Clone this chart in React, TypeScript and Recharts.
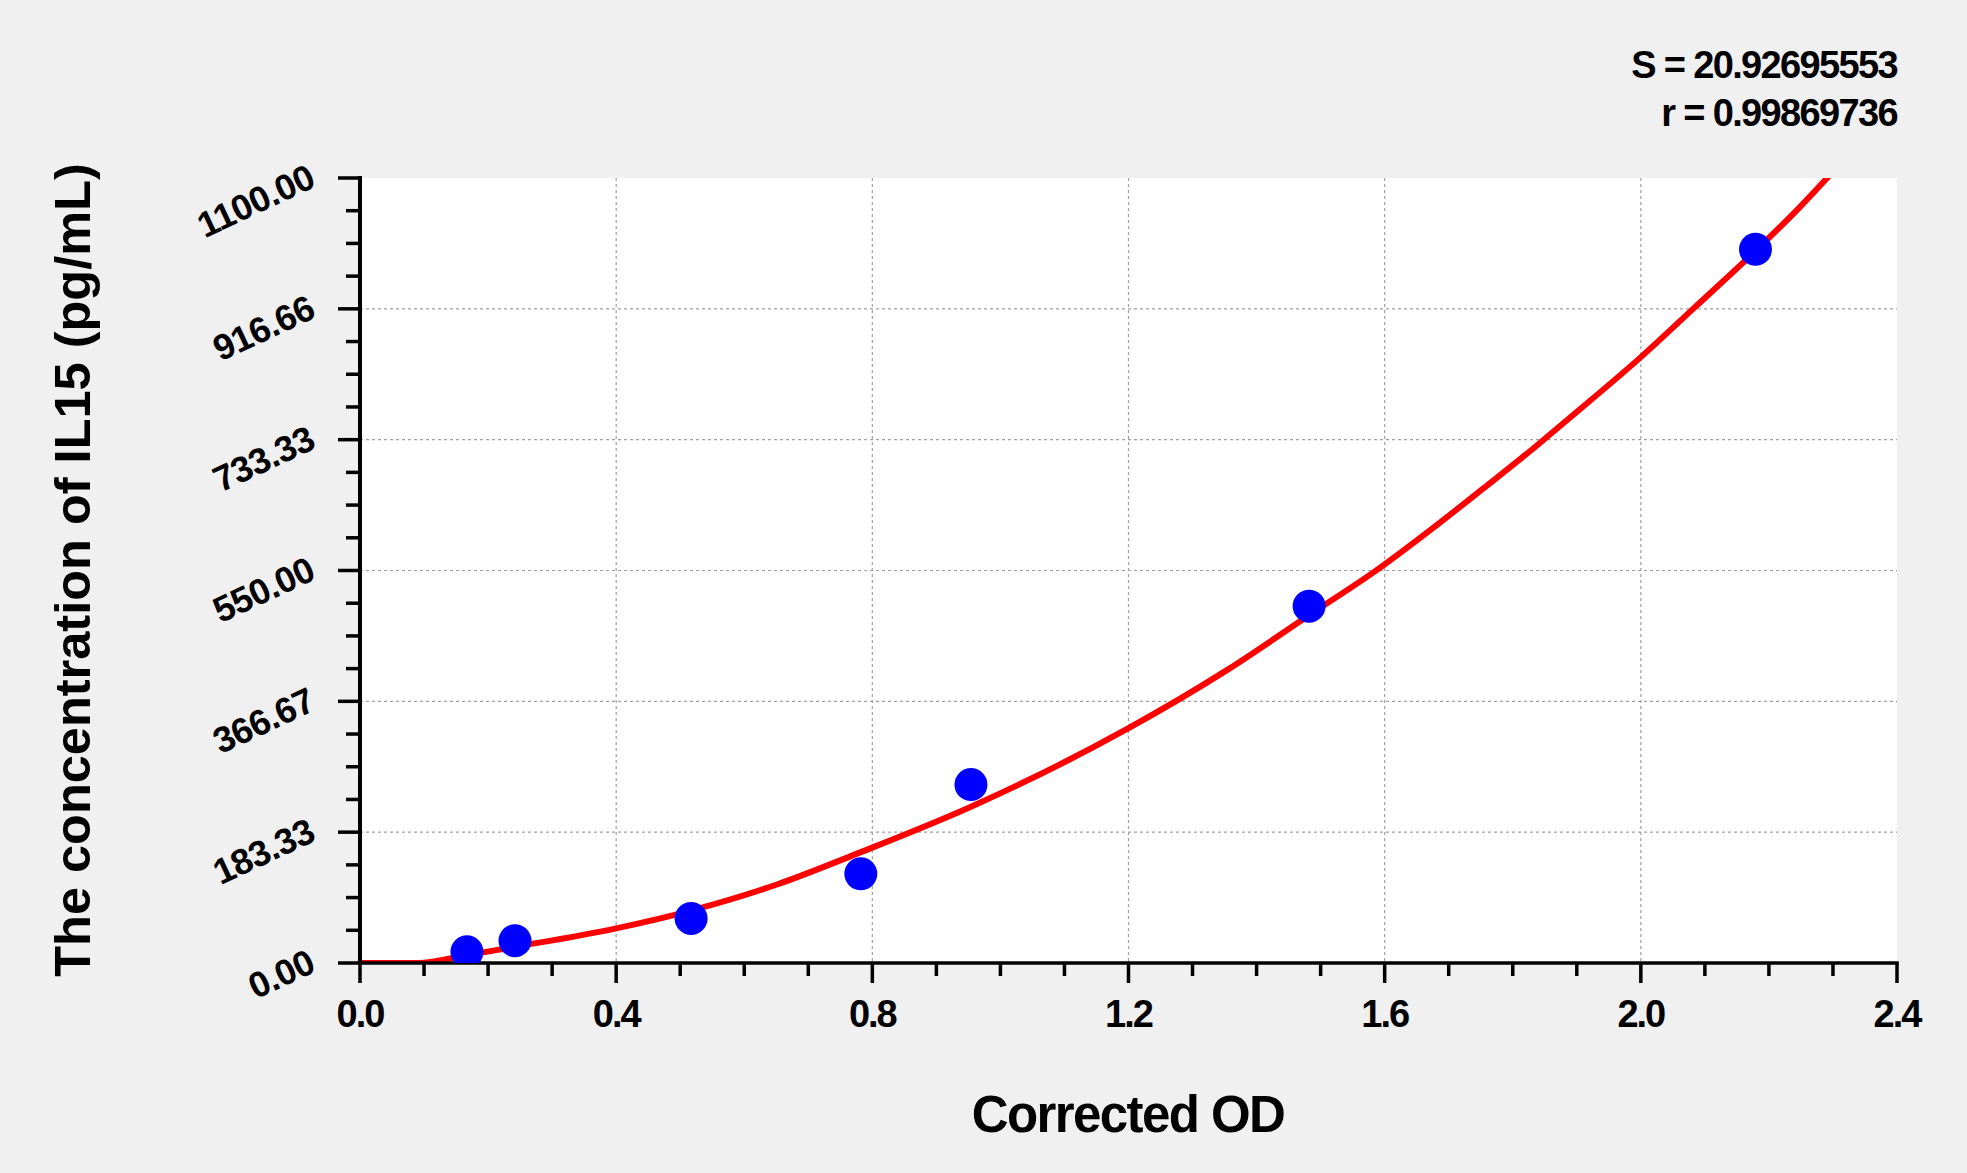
import React from 'react';
import { ComposedChart, Line, Scatter, XAxis, YAxis, CartesianGrid } from 'recharts';

// Standards (corrected OD vs concentration)
const standardOD = [0.167, 0.242, 0.517, 0.782, 0.954, 1.482, 2.179];
const standardConc = [15.6, 31.25, 62.5, 125, 250, 500, 1000];

// Fitted curve
const curveOD = [0, 0.091, 0.167, 0.241, 0.4, 0.517, 0.651, 0.781, 0.954, 1.2, 1.353, 1.483, 1.593, 1.666, 1.754, 1.832, 1.885, 2.0, 2.082, 2.178, 2.249, 2.295];
const curveConc = [0, 0, 11, 22.5, 48.6, 73.5, 110, 155, 219, 329, 410, 488, 554, 603, 665, 721, 761, 849, 917, 997, 1060, 1104];

// Axis ticks
const xTicks = [0, 0.1, 0.2, 0.3, 0.4, 0.5, 0.6, 0.7, 0.8, 0.9, 1.0, 1.1, 1.2, 1.3, 1.4, 1.5, 1.6, 1.7, 1.8, 1.9, 2.0, 2.1, 2.2, 2.3, 2.4];
const xMajorLabels = ['0.0', '0.4', '0.8', '1.2', '1.6', '2.0', '2.4'];
const yTicks = [0, 45.83, 91.67, 137.5, 183.33, 229.17, 275, 320.83, 366.67, 412.5, 458.33, 504.17, 550, 595.83, 641.67, 687.5, 733.33, 779.17, 825, 870.83, 916.66, 962.5, 1008.33, 1054.17, 1100];
const yMajorLabels = ['0.00', '183.33', '366.67', '550.00', '733.33', '916.66', '1100.00'];
const gridX = [0.4, 0.8, 1.2, 1.6, 2.0];
const gridY = [183.33, 366.67, 550, 733.33, 916.66];

const fitStats = ['S = 20.92695553', 'r = 0.99869736'];

const FONT = '"Liberation Sans", Arial, sans-serif';

const standards = standardOD.map((od, i) => ({ od, conc: standardConc[i] }));
const curve = curveOD.map((od, i) => ({ od, conc: curveConc[i] }));

const XTick = (props: any) => {
    const { x, y, index } = props;
    const major = index % 4 === 0;
    return (
        <g>
            <line x1={x} x2={x} y1={y} y2={y + (major ? 20 : 13)} stroke="#000" strokeWidth={3.5} />
            {major && (
                <text x={x} y={y + 64} textAnchor="middle" fontFamily={FONT} fontWeight="bold" fontSize={38} letterSpacing={-2} fill="#000">
                    {xMajorLabels[index / 4]}
                </text>
            )}
        </g>
    );
};

const YTick = (props: any) => {
    const { x, y, index } = props;
    const major = index % 4 === 0;
    return (
        <g>
            <line x1={x - (major ? 22 : 14)} x2={x} y1={y} y2={y} stroke="#000" strokeWidth={3.5} />
            {major && (
                <text
                    x={317}
                    y={y + 8}
                    textAnchor="end"
                    transform={`rotate(-25 317 ${y + 8})`}
                    fontFamily={FONT}
                    fontWeight="bold"
                    fontSize={36}
                    letterSpacing={-0.6}
                    fill="#000"
                >
                    {yMajorLabels[index / 4]}
                </text>
            )}
        </g>
    );
};

const Dot = (props: any) => <circle cx={props.cx} cy={props.cy} r={16.5} fill="#0000ff" />;

export default function App() {
    return (
        <div style={{ position: 'relative', width: 1967, height: 1173, background: '#f0f0f0', overflow: 'hidden' }}>
            <style>{'body{margin:0}'}</style>
            <ComposedChart width={1967} height={1173} margin={{ top: 178, right: 70, bottom: 0, left: 0 }}>
                <CartesianGrid
                    fill="#ffffff"
                    fillOpacity={1}
                    stroke="#a0a0a0"
                    strokeDasharray="3 3"
                    strokeWidth={1.2}
                    horizontalValues={gridY}
                    verticalValues={gridX}
                />
                <XAxis
                    dataKey="od"
                    type="number"
                    domain={[0, 2.4]}
                    ticks={xTicks}
                    interval={0}
                    height={210}
                    tickSize={0}
                    tickMargin={0}
                    tickLine={false}
                    tick={<XTick />}
                    axisLine={{ stroke: '#000', strokeWidth: 3.5, strokeLinecap: 'square' }}
                />
                <XAxis
                    xAxisId="top"
                    orientation="top"
                    type="number"
                    domain={[0, 2.4]}
                    height={0}
                    tick={false}
                    tickLine={false}
                    axisLine={{ stroke: '#000', strokeWidth: 3.5, strokeLinecap: 'square' }}
                />
                <YAxis
                    type="number"
                    domain={[0, 1100]}
                    allowDataOverflow
                    ticks={yTicks}
                    interval={0}
                    width={360}
                    tickSize={0}
                    tickMargin={0}
                    tickLine={false}
                    tick={<YTick />}
                    axisLine={{ stroke: '#000', strokeWidth: 4, strokeLinecap: 'square' }}
                />
                <YAxis
                    yAxisId="right"
                    orientation="right"
                    type="number"
                    domain={[0, 1100]}
                    width={0}
                    tick={false}
                    tickLine={false}
                    axisLine={{ stroke: '#000', strokeWidth: 3.5, strokeLinecap: 'square' }}
                />
                <Scatter data={standards} dataKey="conc" shape={Dot} isAnimationActive={false} />
                <Line
                    data={curve}
                    dataKey="conc"
                    type="monotone"
                    stroke="#ff0000"
                    strokeWidth={6}
                    strokeLinecap="round"
                    dot={false}
                    activeDot={false}
                    isAnimationActive={false}
                />
            </ComposedChart>

            <svg width={1967} height={1173} style={{ position: 'absolute', left: 0, top: 0, pointerEvents: 'none' }}>
                <g fontFamily={FONT} fontWeight="bold" fill="#000">
                    <text x={1897} y={78} textAnchor="end" fontSize={38} letterSpacing={-1.65}>{fitStats[0]}</text>
                    <text x={1897} y={126} textAnchor="end" fontSize={38} letterSpacing={-1.65}>{fitStats[1]}</text>
                    <text x={1128} y={1132} textAnchor="middle" fontSize={51} letterSpacing={-1.6}>Corrected OD</text>
                    <text x={90} y={570} textAnchor="middle" fontSize={50.5} transform="rotate(-90 90 570)">
                        The concentration of IL15 (pg/mL)
                    </text>
                </g>
            </svg>
        </div>
    );
}
